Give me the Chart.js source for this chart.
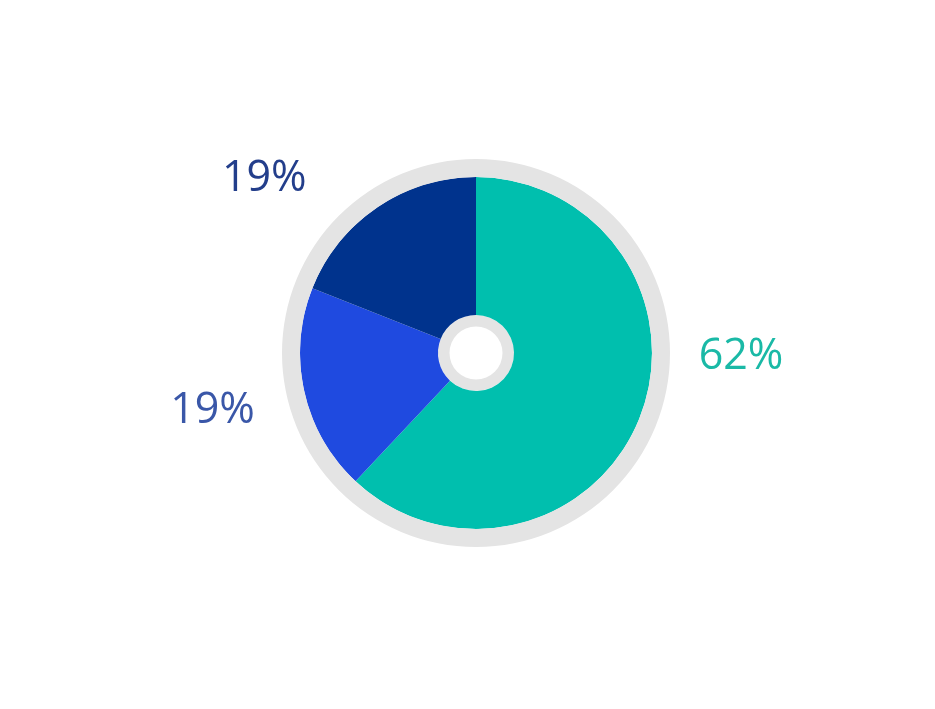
<!DOCTYPE html>
<html>
<head>
<meta charset="utf-8">
<script src="https://cdn.jsdelivr.net/npm/chart.js@4/dist/chart.umd.min.js"></script>
<style>
  html, body { margin: 0; padding: 0; background: #fff; }
  canvas { display: block; }
</style>
</head>
<body>
<canvas id="grafico" width="935" height="709"></canvas>
<script>
// dados
const categorias = ['Segmento A', 'Segmento B', 'Segmento C'];
const valores = [62, 19, 19];
const cores = ['#00bfae', '#1f4ae0', '#00338d'];
const coresTexto = ['#1ab9a6', '#3a57a8', '#233e8b'];

// ajuste dos rotulos (graus em relacao ao meio da fatia, distancia alem da borda)
const ajusteAngulo = [-21.6, 1, -15.9];
const ajusteDist = [89, 93, 100];

const rotulos = {
    id: 'rotulos',
    afterDatasetsDraw(chart) {
        const meta = chart.getDatasetMeta(1);
        const c = chart.ctx;
        c.save();
        c.font = '43px "Open Sans"';
        c.textAlign = 'center';
        c.textBaseline = 'alphabetic';
        meta.data.forEach((arc, i) => {
            const p = arc.getProps(['x', 'y', 'startAngle', 'endAngle', 'outerRadius'], true);
            const a = (p.startAngle + p.endAngle) / 2 + ajusteAngulo[i] * Math.PI / 180;
            const r = p.outerRadius + ajusteDist[i];
            const x = p.x + r * Math.cos(a);
            const y = p.y + r * Math.sin(a);
            c.fillStyle = coresTexto[i];
            c.fillText(valores[i] + '%', x, y + 15.5);
        });
        c.restore();
    }
};

const ctx = document.getElementById('grafico').getContext('2d');
const grafico = new Chart(ctx, {
    type: 'doughnut',
    data: {
        labels: categorias,
        datasets: [
            { data: [1], backgroundColor: ['#e4e4e4'], weight: 18 },
            { data: valores, backgroundColor: cores, weight: 138 },
            { data: [1], backgroundColor: ['#e4e4e4'], weight: 11.5 }
        ]
    },
    options: {
        responsive: false,
        animation: false,
        cutout: 26.5,
        borderWidth: 0,
        hoverOffset: 0,
        layout: { padding: { top: 159, bottom: 162, left: 17, right: 0 } },
        plugins: {
            legend: { display: false },
            tooltip: { enabled: false }
        }
    },
    plugins: [rotulos]
});
</script>
</body>
</html>
